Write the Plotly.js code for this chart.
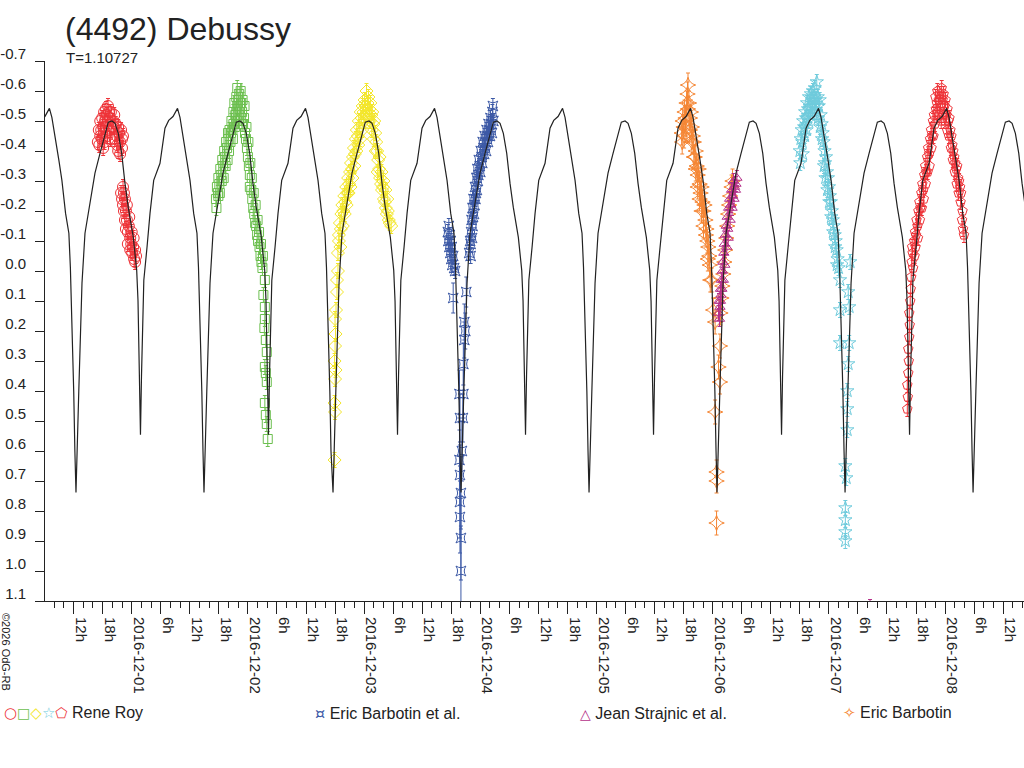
<!DOCTYPE html>
<html>
<head>
<meta charset="utf-8">
<script src="https://cdn.plot.ly/plotly-3.0.1.min.js"></script>
<style>
  html, body { margin: 0; padding: 0; background: #fff; }
  #lc_myDiv { width: 1024px; height: 768px; }
</style>
</head>
<body>
<div id="lc_myDiv"></div>
<script>
// times are hours since 2016-11-30 00:00 UT, magnitudes are relative

// model light curve: one rotation (phase in hours from the deep minimum)
var modelPhase = [0, 0.58, 1.24, 1.86, 3.24, 3.92, 4.96, 5.99, 6.67, 7.44,
  8.06, 8.74, 9.44, 10.12, 10.80, 11.84, 12.54, 12.81, 13.12, 13.32,
  13.53, 13.76, 14.01, 14.67, 15.29, 16.05, 17.35, 18.38, 19.15, 20.04,
  20.97, 21.48, 22.93, 23.55, 24.31, 24.99, 25.30, 25.61, 25.99, 26.23];
var modelMag = [0.738, 0.40, 0.041, -0.126, -0.269, -0.326, -0.392, -0.459, -0.496, -0.50,
  -0.492, -0.459, -0.392, -0.292, -0.212, -0.112, -0.002, 0.10, 0.35, 0.546,
  0.35, 0.141, 0.031, -0.079, -0.192, -0.302, -0.359, -0.476, -0.502, -0.515,
  -0.542, -0.512, -0.369, -0.302, -0.192, -0.126, -0.012, 0.141, 0.40, 0.60];
// times of the deep minima seen on the plot
var modelMinima = [-13.97, 12.49, 38.93, 65.58, 92.02, 118.46, 144.90, 171.34, 197.78];

// Rene Roy, session 1 (circles)
var roy1 = [[17.0,-0.43],[17.2,-0.47],[17.5,-0.45],[17.5,-0.50],[17.7,-0.47],[17.9,-0.51],[18.1,-0.48],[18.1,-0.41],
  [18.3,-0.53],[18.3,-0.46],[18.5,-0.50],[18.7,-0.54],[18.7,-0.48],[18.9,-0.52],[19.1,-0.55],[19.1,-0.50],
  [19.3,-0.53],[19.5,-0.51],[19.5,-0.47],[19.7,-0.53],[19.9,-0.48],[20.1,-0.50],
  [20.3,-0.48],[20.5,-0.44],[20.7,-0.49],[20.9,-0.45],[21.2,-0.40],[21.2,-0.48],[21.4,-0.46],[21.6,-0.43],
  [21.8,-0.47],[22.0,-0.44],[22.0,-0.41],[22.2,-0.45],
  [17.3,-0.42],[17.8,-0.44],[18.4,-0.43],[19.0,-0.45],[19.6,-0.44],[20.4,-0.52],[21.0,-0.42],[21.6,-0.39],
  [21.8,-0.26],[22.0,-0.24],[22.2,-0.28],[22.2,-0.22],[22.4,-0.20],[22.6,-0.24],[22.6,-0.17],[22.8,-0.20],
  [22.8,-0.14],[23.0,-0.17],[23.2,-0.13],[23.2,-0.09],[23.4,-0.15],[23.7,-0.11],[23.7,-0.07],[23.9,-0.09],
  [24.1,-0.06],[24.3,-0.08],[24.5,-0.04],[24.7,-0.03],[24.7,-0.07],[24.9,-0.05],
  [22.4,-0.26],[23.0,-0.22],[23.5,-0.18],[24.0,-0.13],[24.4,-0.11]];

// Rene Roy, session 2 (squares)
var roy2 = [[41.4,-0.24],[41.6,-0.28],[41.8,-0.26],[41.9,-0.31],[42.1,-0.29],[42.3,-0.34],[42.5,-0.32],[42.7,-0.37],
  [42.9,-0.35],[43.1,-0.40],[43.3,-0.38],[43.5,-0.43],[43.7,-0.41],[43.9,-0.46],
  [44.0,-0.44],[44.2,-0.47],[44.4,-0.43],[44.6,-0.50],[44.8,-0.47],[45.0,-0.53],[45.0,-0.49],[45.2,-0.56],
  [45.4,-0.52],[45.6,-0.58],[45.6,-0.53],[45.8,-0.61],[45.8,-0.55],[46.0,-0.57],[46.2,-0.53],[46.2,-0.59],
  [46.4,-0.55],[46.6,-0.51],[46.6,-0.56],[46.8,-0.53],[47.0,-0.49],[47.2,-0.51],[47.4,-0.46],[47.6,-0.44],
  [47.8,-0.41],[48.0,-0.38],[48.2,-0.35],[48.4,-0.32],[48.4,-0.28],[48.7,-0.27],[48.9,-0.24],[49.1,-0.21],
  [49.3,-0.19],[49.5,-0.16],[49.7,-0.15],[49.9,-0.12],[50.1,-0.10],[50.4,-0.08],[50.6,-0.05],[50.8,-0.03],[51.0,-0.01],
  [41.5,-0.21],[41.9,-0.25],[42.2,-0.26],[42.6,-0.30],[43.0,-0.31],[43.4,-0.35],[43.8,-0.37],[44.1,-0.40],
  [44.5,-0.46],[44.9,-0.44],[45.3,-0.48],[45.7,-0.50],[46.1,-0.50],[46.5,-0.60],[46.9,-0.57],[47.3,-0.55],
  [47.7,-0.48],[48.1,-0.43],[48.5,-0.36],[48.8,-0.31],[49.2,-0.26],[49.6,-0.22],[50.0,-0.17],[50.3,-0.13],
  [50.7,-0.09],[51.1,-0.05],
  [51.5,0.03],[51.2,0.08],[51.5,0.12],[51.5,0.16],[51.4,0.19],[51.7,0.23],[51.9,0.27],[51.5,0.32],
  [51.7,0.34],[51.9,0.37],[51.5,0.44],[51.7,0.48],[51.9,0.51],[52.1,0.56]];

// Rene Roy, session 3 (diamonds)
var roy3 = [[65.9,0.63],[66.0,0.47],[65.9,0.44],[66.0,0.36],[66.1,0.33],[65.9,0.30],[66.0,0.25],[66.1,0.21],
  [66.0,0.16],[66.2,0.13],[66.4,0.07],[66.4,0.03],[66.6,0.00],[66.6,-0.06],[66.8,-0.10],
  [66.8,-0.12],[67.0,-0.16],[67.2,-0.14],[67.3,-0.19],[67.5,-0.22],[67.7,-0.20],[67.9,-0.25],[68.1,-0.23],
  [68.3,-0.28],[68.5,-0.26],[68.7,-0.31],[68.9,-0.29],[69.1,-0.33],[69.3,-0.36],[69.5,-0.34],[69.7,-0.38],
  [69.9,-0.41],[70.1,-0.39],
  [70.3,-0.44],[70.5,-0.47],[70.7,-0.45],[70.9,-0.50],[71.1,-0.48],[71.3,-0.53],[71.5,-0.51],[71.7,-0.55],
  [71.9,-0.53],[72.1,-0.57],[72.3,-0.55],[72.5,-0.60],[72.7,-0.56],[72.9,-0.58],[73.1,-0.54],[73.3,-0.56],
  [73.5,-0.52],[73.7,-0.53],[73.9,-0.49],[74.1,-0.50],[74.3,-0.46],[74.5,-0.43],[74.7,-0.40],
  [74.9,-0.37],[75.1,-0.34],[75.3,-0.31],[75.5,-0.29],[75.7,-0.27],[75.9,-0.28],[76.1,-0.24],[76.3,-0.23],
  [76.5,-0.21],[76.7,-0.19],[76.9,-0.20],[77.1,-0.17],[77.3,-0.16],[77.6,-0.15],
  [67.1,-0.08],[67.6,-0.15],[68.0,-0.19],[68.4,-0.22],[68.8,-0.26],[69.2,-0.28],[69.6,-0.31],[70.0,-0.35],
  [70.4,-0.40],[70.8,-0.42],[71.2,-0.44],[71.6,-0.47],[72.0,-0.50],[72.4,-0.52],[72.8,-0.52],[73.2,-0.50],
  [73.6,-0.47],[74.0,-0.44],[74.4,-0.40],[74.8,-0.33],[75.2,-0.38],[75.6,-0.33],[76.0,-0.30],[76.4,-0.27],
  [76.8,-0.24]];

// Rene Roy, session 4 (stars)
var roy4 = [[162.0,-0.40],[162.2,-0.44],[162.4,-0.47],[162.5,-0.43],[162.7,-0.50],[162.9,-0.48],[163.1,-0.53],
  [163.3,-0.51],[163.5,-0.56],[163.7,-0.54],[163.9,-0.58],[164.1,-0.55],[164.3,-0.59],[164.5,-0.57],
  [164.7,-0.60],[164.9,-0.58],[165.1,-0.61],[165.3,-0.57],[165.5,-0.63],[165.7,-0.58],[165.9,-0.55],
  [166.1,-0.57],[166.3,-0.52],[166.5,-0.49],
  [166.7,-0.46],[166.9,-0.43],[167.1,-0.40],[167.2,-0.36],[167.4,-0.38],[167.6,-0.33],[167.8,-0.31],
  [168.0,-0.28],[168.2,-0.25],[168.4,-0.23],[168.6,-0.20],[168.8,-0.17],[169.0,-0.15],[169.2,-0.12],
  [169.4,-0.10],[169.6,-0.07],[169.8,-0.04],[170.0,-0.01],[170.3,0.03],
  [162.1,-0.36],[162.6,-0.39],[163.0,-0.45],[163.4,-0.47],[163.8,-0.50],[164.2,-0.52],[164.6,-0.53],
  [165.0,-0.55],[165.4,-0.53],[165.8,-0.51],[166.2,-0.48],[166.6,-0.44],[167.0,-0.35],[167.3,-0.31],
  [167.7,-0.27],[168.1,-0.23],[168.5,-0.18],[168.9,-0.13],[169.3,-0.08],[169.7,-0.02],
  [172.4,-0.03],[172.0,0.07],[172.2,0.12],[170.3,0.13],[170.3,0.24],[172.2,0.24],[172.0,0.31],
  [171.8,0.40],[171.8,0.46],[171.8,0.53],[171.4,0.65],[171.6,0.69],[171.4,0.79],[171.4,0.83],
  [171.4,0.87],[171.4,0.90]];

// Rene Roy, session 5 (pentagons)
var roy5 = [[184.2,0.46],[184.3,0.42],[184.2,0.38],[184.4,0.34],[184.5,0.30],[184.4,0.26],[184.6,0.22],
  [184.7,0.18],[184.6,0.14],[184.8,0.10],[184.9,0.06],[185.0,0.02],
  [185.1,-0.03],[185.3,-0.06],[185.4,-0.01],[185.6,-0.10],[185.8,-0.13],[185.9,-0.08],[186.1,-0.17],
  [186.3,-0.15],[186.5,-0.20],[186.7,-0.23],[186.9,-0.21],[187.1,-0.26],[187.3,-0.29],[187.5,-0.27],
  [187.7,-0.32],[187.9,-0.35],[188.1,-0.33],[188.3,-0.38],[188.5,-0.41],[188.7,-0.39],[188.9,-0.44],
  [189.1,-0.47],[189.3,-0.45],[189.5,-0.50],[189.7,-0.52],[189.9,-0.49],[190.1,-0.54],[190.3,-0.56],
  [190.5,-0.53],[190.7,-0.57],[190.9,-0.59],[191.1,-0.55],[191.3,-0.61],[191.5,-0.57],
  [191.7,-0.59],[191.9,-0.55],[192.1,-0.57],[192.3,-0.52],[192.5,-0.54],[192.7,-0.50],[192.9,-0.51],
  [193.1,-0.47],[193.3,-0.45],[193.5,-0.42],[193.7,-0.40],[193.9,-0.38],[194.1,-0.36],[194.3,-0.34],
  [194.5,-0.35],[194.7,-0.31],[194.9,-0.30],[195.1,-0.28],[195.3,-0.26],
  [185.2,-0.08],[185.7,-0.05],[186.0,-0.12],[186.4,-0.11],[186.8,-0.17],[187.2,-0.21],[187.6,-0.24],
  [188.0,-0.29],[188.4,-0.33],[188.8,-0.35],[189.2,-0.41],[189.6,-0.45],[190.0,-0.58],[190.4,-0.60],
  [190.8,-0.52],[191.2,-0.50],[191.6,-0.52],[192.0,-0.50],[192.4,-0.47],[192.8,-0.45],[193.2,-0.41],
  [193.6,-0.37],[194.0,-0.33],[194.4,-0.29],[194.8,-0.26],[195.2,-0.23],
  [195.5,-0.17],[195.7,-0.14],[195.9,-0.12],[195.6,-0.20]];

// Eric Barbotin et al.
var barbotinEtAl = [[89.3,-0.13],[89.4,-0.10],[89.5,-0.15],[89.6,-0.08],[89.7,-0.12],[89.8,-0.06],[89.9,-0.10],
  [90.0,-0.04],[90.1,-0.08],[90.2,-0.02],[90.4,-0.05],[90.6,-0.01],[90.8,0.00],
  [93.7,-0.06],[93.9,-0.10],[94.0,-0.05],[94.1,-0.13],[94.2,-0.17],[94.3,-0.11],[94.4,-0.21],[94.5,-0.18],
  [94.6,-0.24],[94.8,-0.22],[94.9,-0.28],[95.1,-0.26],[95.2,-0.31],[95.4,-0.34],[95.5,-0.30],[95.7,-0.37],
  [95.9,-0.35],[96.1,-0.40],[96.3,-0.38],[96.5,-0.43],[96.7,-0.41],[96.9,-0.45],[97.1,-0.43],[97.3,-0.47],
  [97.5,-0.45],[97.7,-0.49],[97.9,-0.47],[98.1,-0.51],[98.3,-0.49],[98.5,-0.53],[98.7,-0.50],
  [94.0,-0.09],[94.4,-0.15],[94.7,-0.19],[95.0,-0.24],[95.3,-0.27],[95.6,-0.32],[96.0,-0.33],[96.4,-0.36],
  [96.8,-0.39],[97.2,-0.40],[97.6,-0.43],[98.0,-0.45],[98.4,-0.46],[98.6,-0.55]];
// faint points of the eclipse night: [time, mag, error]
var barbotinEtAlFaint = [[90.4,0.09,0.05],[93.1,0.07,0.05],[92.7,0.17,0.06],[92.9,0.20,0.06],[92.7,0.23,0.06],
  [92.5,0.31,0.07],[91.7,0.41,0.08],[92.5,0.41,0.08],[91.8,0.49,0.08],[92.4,0.49,0.08],[92.2,0.60,0.10],
  [91.7,0.63,0.10],[91.8,0.68,0.10],[92.0,0.74,0.12],[91.8,0.77,0.12],[91.8,0.82,0.12],[92.0,0.89,0.14],
  [92.0,1.00,0.15]];

// Jean Strajnic et al.
var strajnic = [[145.2,0.14],[145.3,0.10],[145.5,0.12],[145.6,0.06],[145.7,0.08],[145.8,0.03],[146.0,0.00],
  [146.1,-0.03],[146.3,-0.06],[146.4,-0.09],[146.6,-0.12],[146.8,-0.15],[147.0,-0.18],[147.1,-0.14],
  [147.3,-0.21],[147.5,-0.24],[147.7,-0.22],[147.9,-0.27],[148.1,-0.25],[148.3,-0.30],[148.5,-0.28],
  [148.8,-0.29],[149.0,-0.31],
  [145.4,0.16],[145.6,0.10],[145.9,0.06],[146.2,0.03],[146.5,-0.02],[146.9,-0.08],[147.2,-0.11],
  [147.6,-0.17],[148.0,-0.21],[148.4,-0.24],[148.7,-0.27],
  [176.5,1.12]];

// Eric Barbotin
var barbotin = [[137.6,-0.46],[137.8,-0.50],[138.0,-0.48],[138.2,-0.53],[138.4,-0.51],[138.6,-0.56],
  [138.8,-0.59],[138.9,-0.54],[139.1,-0.56],[139.3,-0.51],[139.5,-0.53],[139.7,-0.48],[139.9,-0.45],
  [140.1,-0.43],[140.3,-0.38],[140.5,-0.40],[140.7,-0.35],[140.9,-0.32],[141.1,-0.34],[141.3,-0.29],
  [141.5,-0.26],[141.7,-0.28],[141.9,-0.23],[142.1,-0.20],[142.3,-0.22],[142.5,-0.17],[142.7,-0.14],
  [142.9,-0.10],[143.1,-0.08],[143.3,-0.05],[143.4,-0.02],[143.5,0.03],
  [137.7,-0.43],[138.1,-0.45],[138.5,-0.48],[138.9,-0.62],[139.3,-0.47],[139.7,-0.43],[140.1,-0.38],
  [140.5,-0.34],[140.9,-0.28],[141.3,-0.24],[141.7,-0.20],[142.1,-0.15],[142.6,-0.12],[143.0,-0.04],
  [143.8,0.03],[144.1,0.13],[144.5,0.17],[145.5,0.25],[145.2,0.32],[145.5,0.37],[144.5,0.47],
  [144.8,0.67],[144.8,0.70],[144.8,0.84],
  [145.6,0.14],[145.8,0.09],[146.0,0.05],[146.2,0.01],[146.4,-0.03],[146.6,-0.07],[146.8,-0.11],
  [147.0,-0.15],[147.2,-0.19],[147.4,-0.22],[147.6,-0.25],[147.9,-0.28],[148.1,-0.30]];

var magTicks = [-0.7, -0.6, -0.5, -0.4, -0.3, -0.2, -0.1, 0.0, 0.1, 0.2, 0.3, 0.4, 0.5, 0.6, 0.7, 0.8, 0.9, 1.0, 1.1];

var fontFamily = 'Liberation Sans, Arial, sans-serif';
var ink = '#222222';
var royRed = '#ee3338';
var royGreen = '#6cbf4f';
var royYellow = '#f3e62a';
var royCyan = '#6fcbdc';
var etAlBlue = '#3c59a6';
var strajnicPurple = '#b5318a';
var barbotinOrange = '#f58634';

function toDate(h) {
  var d = new Date(Date.UTC(2016, 10, 30) + h * 3600000);
  return d.toISOString().replace('T', ' ').slice(0, 19);
}

function sessionTrace(points, symbol, size, color, err) {
  return {
    x: points.map(function (p) { return toDate(p[0]); }),
    y: points.map(function (p) { return p[1]; }),
    type: 'scatter',
    mode: 'markers',
    marker: {symbol: symbol, size: size, color: color, line: {width: 1, color: color}},
    error_y: {type: 'constant', value: err, thickness: 1, width: 2, color: color},
    cliponaxis: false,
    hoverinfo: 'skip'
  };
}

// model curve from the rotation template
var modelX = [];
var modelY = [];
for (var i = 0; i < modelMinima.length; i++) {
  for (var j = 0; j < modelPhase.length; j++) {
    modelX.push(toDate(modelMinima[i] + modelPhase[j]));
    modelY.push(modelMag[j]);
  }
}

var faintTrace = sessionTrace(barbotinEtAlFaint, 'star-square-open', 9, etAlBlue, 0);
faintTrace.error_y = {type: 'data', array: barbotinEtAlFaint.map(function (p) { return p[2]; }),
  thickness: 1, width: 2, color: etAlBlue};

var data = [
  sessionTrace(roy1, 'circle-open', 11, royRed, 0.025),
  sessionTrace(roy2, 'square-open', 9, royGreen, 0.025),
  sessionTrace(roy3, 'diamond-open', 10, royYellow, 0.025),
  sessionTrace(roy4, 'star-open', 10, royCyan, 0.025),
  sessionTrace(roy5, 'pentagon-open', 10, royRed, 0.025),
  sessionTrace(barbotinEtAl, 'star-square-open', 9, etAlBlue, 0.025),
  faintTrace,
  sessionTrace(barbotin, 'star-diamond-open', 11, barbotinOrange, 0.04),
  sessionTrace(strajnic, 'triangle-up-open', 9, strajnicPurple, 0.025),
  {
    x: modelX,
    y: modelY,
    type: 'scatter',
    mode: 'lines',
    line: {color: ink, width: 1.2},
    hoverinfo: 'skip'
  }
];

// x ticks every 6 hours, date at midnight
var tickVals = [];
var tickText = [];
for (var h = 12; h <= 204; h += 6) {
  tickVals.push(toDate(h));
  tickText.push(h % 24 === 0 ? toDate(h).slice(0, 10) : (h % 24) + 'h');
}

function px(x) { return (x - 45) / 979; }
function py(y) { return (601 - y) / 540; }

function legendText(items, name) {
  var s = '';
  items.forEach(function (it) {
    s += '<span style="color:' + it[1] + ';font-family:DejaVu Sans;font-size:' + it[2] + 'px">' + it[0] + '</span>';
  });
  return s + ' ' + name;
}

var legendFont = {family: fontFamily, size: 16, color: ink};

var layout = {
  width: 1024,
  height: 768,
  margin: {l: 45, r: 0, t: 61, b: 167},
  paper_bgcolor: '#ffffff',
  plot_bgcolor: '#ffffff',
  showlegend: false,
  hovermode: false,
  title: {
    text: '(4492) Debussy',
    font: {family: fontFamily, size: 32, color: ink},
    x: 65 / 1024, xanchor: 'left', xref: 'container',
    y: 1 - 29 / 768, yanchor: 'middle', yref: 'container'
  },
  xaxis: {
    type: 'date',
    range: [toDate(6.09), toDate(208.3)],
    showgrid: false,
    zeroline: false,
    showline: true,
    linecolor: ink,
    linewidth: 1,
    ticks: 'outside',
    ticklen: 12,
    tickcolor: ink,
    tickmode: 'array',
    tickvals: tickVals,
    ticktext: tickText,
    tickangle: 90,
    ticklabelshift: 7,
    tickfont: {family: fontFamily, size: 15, color: ink},
    minor: {dtick: 7200000, tick0: toDate(0), ticks: 'outside', ticklen: 6, tickcolor: ink, showgrid: false}
  },
  yaxis: {
    range: [1.1, -0.7],
    showgrid: false,
    zeroline: false,
    showline: true,
    linecolor: ink,
    linewidth: 1,
    ticks: 'outside',
    ticklen: 9,
    tickcolor: ink,
    tickmode: 'array',
    tickvals: magTicks,
    ticktext: magTicks.map(function (v) { return v.toFixed(1); }),
    ticklabelshift: 7,
    ticklabelstandoff: 6,
    tickfont: {family: fontFamily, size: 15, color: ink}
  },
  annotations: [
    {text: 'T=1.10727', xref: 'paper', yref: 'paper', x: px(64), y: py(57),
      xanchor: 'left', yanchor: 'middle', showarrow: false,
      font: {family: fontFamily, size: 15, color: ink}},
    {text: '\u00a92026 OdG-RB', xref: 'paper', yref: 'paper', x: px(6), y: py(652),
      xanchor: 'center', yanchor: 'middle', textangle: 90, showarrow: false,
      font: {family: fontFamily, size: 11, color: ink}},
    {text: legendText([['\u25cb', royRed, 15], ['\u25a1', royGreen, 14], ['\u25c7', royYellow, 15],
        ['\u2606', royCyan, 15], ['\u2b20', royRed, 14]], 'Rene Roy'),
      xref: 'paper', yref: 'paper', x: px(2), y: py(713), xanchor: 'left', yanchor: 'middle',
      showarrow: false, font: legendFont},
    {text: legendText([['\u00a4', etAlBlue, 16]], 'Eric Barbotin et al.'),
      xref: 'paper', yref: 'paper', x: px(313), y: py(713), xanchor: 'left', yanchor: 'middle',
      showarrow: false, font: legendFont},
    {text: legendText([['\u25b3', strajnicPurple, 14]], 'Jean Strajnic et al.'),
      xref: 'paper', yref: 'paper', x: px(578), y: py(713), xanchor: 'left', yanchor: 'middle',
      showarrow: false, font: legendFont},
    {text: legendText([['\u2727', barbotinOrange, 15]], 'Eric Barbotin'),
      xref: 'paper', yref: 'paper', x: px(841), y: py(713), xanchor: 'left', yanchor: 'middle',
      showarrow: false, font: legendFont}
  ]
};

Plotly.newPlot('lc_myDiv', data, layout, {displayModeBar: false, staticPlot: true});
</script>
</body>
</html>
